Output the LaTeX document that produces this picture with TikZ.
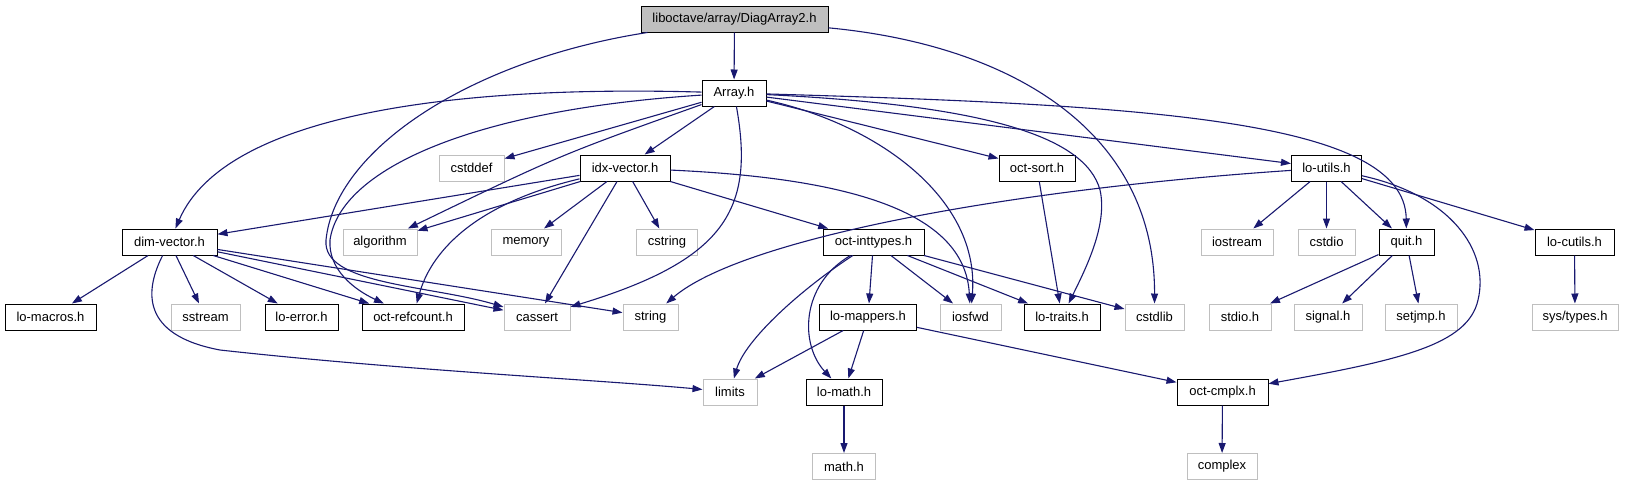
\documentclass[tikz,border=0pt]{standalone}
\usepackage{fontspec}
\setmainfont{Liberation Sans}
\usetikzlibrary{arrows.meta}
\definecolor{edgeblue}{HTML}{191970}
\definecolor{greyseventyfive}{HTML}{BFBFBF}
\tikzset{
  box/.style={line width=1pt, minimum height=26pt, inner xsep=3pt, inner ysep=0pt,
    font=\fontsize{13pt}{15pt}\selectfont, anchor=center},
  doc/.style={box, draw=black},
  ext/.style={box, draw=greyseventyfive},
  cur/.style={box, draw=black, fill=greyseventyfive},
  e/.style={draw=edgeblue, line width=1.1pt, -{Triangle[length=10pt,width=7pt]}},
}
\begin{document}
\begin{tikzpicture}[x=1pt,y=-1pt]
\fill[white] (0,0) rectangle (1628,485);
\useasboundingbox (0,0) rectangle (1628,485);
% row 0
\node[cur, minimum width=187pt] (diag) at (734.5,19) {liboctave/array/DiagArray2.h};
% row 1
\node[doc, minimum width=64pt] (array) at (734,93) {Array.h};
% row 2
\node[ext, minimum width=65pt] (cstddef) at (471.5,168) {cstddef};
\node[doc, minimum width=90pt] (idx) at (625,168) {idx-vector.h};
\node[doc, minimum width=76pt] (octsort) at (1037,168) {oct-sort.h};
\node[doc, minimum width=70pt] (loutils) at (1326.5,168) {lo-utils.h};
% row 3
\node[doc, minimum width=95pt] (dimvec) at (169.5,242) {dim-vector.h};
\node[ext, minimum width=74pt] (algorithm) at (380,242) {algorithm};
\node[ext, minimum width=70pt] (memory) at (526,242) {memory};
\node[ext, minimum width=61pt] (cstring) at (667,242) {cstring};
\node[doc, minimum width=101pt] (octint) at (873.5,242) {oct-inttypes.h};
\node[ext, minimum width=72pt] (iostream) at (1237,242) {iostream};
\node[ext, minimum width=57pt] (cstdio) at (1326.5,242) {cstdio};
\node[doc, minimum width=55pt] (quit) at (1406.5,242) {quit.h};
\node[doc, minimum width=79pt] (locutils) at (1574.5,242) {lo-cutils.h};
% row 4
\node[doc, minimum width=91pt] (lomacros) at (50.5,317) {lo-macros.h};
\node[ext, minimum width=69pt] (sstream) at (205.5,317) {sstream};
\node[doc, minimum width=73pt] (loerror) at (301.5,317) {lo-error.h};
\node[doc, minimum width=102pt] (refcount) at (413,317) {oct-refcount.h};
\node[ext, minimum width=66pt] (cassert) at (537,317) {cassert};
\node[ext, minimum width=55pt] (string) at (650.5,317) {string};
\node[doc, minimum width=97pt] (lomappers) at (868,317) {lo-mappers.h};
\node[ext, minimum width=61pt] (iosfwd) at (970.5,317) {iosfwd};
\node[doc, minimum width=76pt] (lotraits) at (1062,317) {lo-traits.h};
\node[ext, minimum width=59pt] (cstdlib) at (1154.5,317) {cstdlib};
\node[ext, minimum width=62pt] (stdioh) at (1240,317) {stdio.h};
\node[ext, minimum width=68pt] (signal) at (1328,317) {signal.h};
\node[ext, minimum width=72pt] (setjmp) at (1421,317) {setjmp.h};
\node[ext, minimum width=86pt] (systypes) at (1575,317) {sys/types.h};
% row 5
\node[ext, minimum width=54pt] (limits) at (730,392) {limits};
\node[doc, minimum width=76pt] (lomath) at (844,392) {lo-math.h};
\node[doc, minimum width=91pt] (octcmplx) at (1222.5,392) {oct-cmplx.h};
% row 6
\node[ext, minimum width=63pt] (mathh) at (844,466.5) {math.h};
\node[ext, minimum width=70pt] (complex) at (1222,466.5) {complex};

% ---- edges from DiagArray2.h
\draw[e] (diag) -- (array);
\draw[e] (diag) .. controls (470,60) and (335,150) .. (326,240) .. controls (322,285) and (430,285) .. (cassert);
\draw[e] (diag) .. controls (1010,45) and (1155,130) .. (cstdlib);
% ---- edges from Array.h
\draw[e] (array) .. controls (450,85) and (225,115) .. (dimvec);
\draw[e] (array) .. controls (470,110) and (340,170) .. (330,240) .. controls (328,270) and (355,290) .. (refcount);
\draw[e] (array) -- (cstddef);
\draw[e] (array) .. controls (560,155) .. (algorithm);
\draw[e] (array) -- (idx);
\draw[e] (array) .. controls (755,210) and (725,260) .. (cassert);
\draw[e] (array) .. controls (880,125) and (980,200) .. (iosfwd);
\draw[e] (array) -- (octsort);
\draw[e] (array) .. controls (980,105) and (1085,135) .. (1100,190) .. controls (1108,225) and (1085,270) .. (lotraits);
\draw[e] (array) -- (loutils);
\draw[e] (array) .. controls (1150,105) and (1405,120) .. (quit);
% ---- edges from idx-vector.h
\draw[e] (idx) -- (dimvec);
\draw[e] (idx) -- (algorithm);
\draw[e] (idx) .. controls (470,205) and (430,255) .. (refcount);
\draw[e] (idx) -- (memory);
\draw[e] (idx) -- (cassert);
\draw[e] (idx) -- (cstring);
\draw[e] (idx) -- (octint);
\draw[e] (idx) .. controls (845,178) and (965,210) .. (iosfwd);
% ---- edges from oct-sort.h
\draw[e] (octsort) -- (lotraits);
% ---- edges from lo-utils.h
\draw[e] (loutils) .. controls (1000,190) and (740,240) .. (string);
\draw[e] (loutils) -- (iostream);
\draw[e] (loutils) -- (cstdio);
\draw[e] (loutils) -- (quit);
\draw[e] (loutils) -- (locutils);
\draw[e] (loutils) .. controls (1450,195) and (1490,250) .. (1478,300) .. controls (1468,345) and (1400,360) .. (octcmplx);
% ---- edges from dim-vector.h
\draw[e] (dimvec) -- (lomacros);
\draw[e] (dimvec) -- (sstream);
\draw[e] (dimvec) -- (loerror);
\draw[e] (dimvec) -- (refcount);
\draw[e] (dimvec) -- (cassert);
\draw[e] (dimvec) -- (string);
\draw[e] (dimvec) .. controls (145,290) and (140,335) .. (220,350) .. controls (400,370) and (600,380) .. (limits);
% ---- edges from oct-inttypes.h
\draw[e] (octint) -- (lomappers);
\draw[e] (octint) -- (iosfwd);
\draw[e] (octint) -- (lotraits);
\draw[e] (octint) -- (cstdlib);
\draw[e] (octint) .. controls (800,290) and (745,340) .. (limits);
\draw[e] (octint) .. controls (800,285) and (800,345) .. (lomath);
% ---- edges from lo-mappers.h
\draw[e] (lomappers) -- (limits);
\draw[e] (lomappers) -- (lomath);
\draw[e] (lomappers) -- (octcmplx);
% ---- remaining
\draw[e] (lomath) -- (mathh);
\draw[e] (octcmplx) -- (complex);
\draw[e] (quit) -- (stdioh);
\draw[e] (quit) -- (signal);
\draw[e] (quit) -- (setjmp);
\draw[e] (locutils) -- (systypes);
\end{tikzpicture}
\end{document}
